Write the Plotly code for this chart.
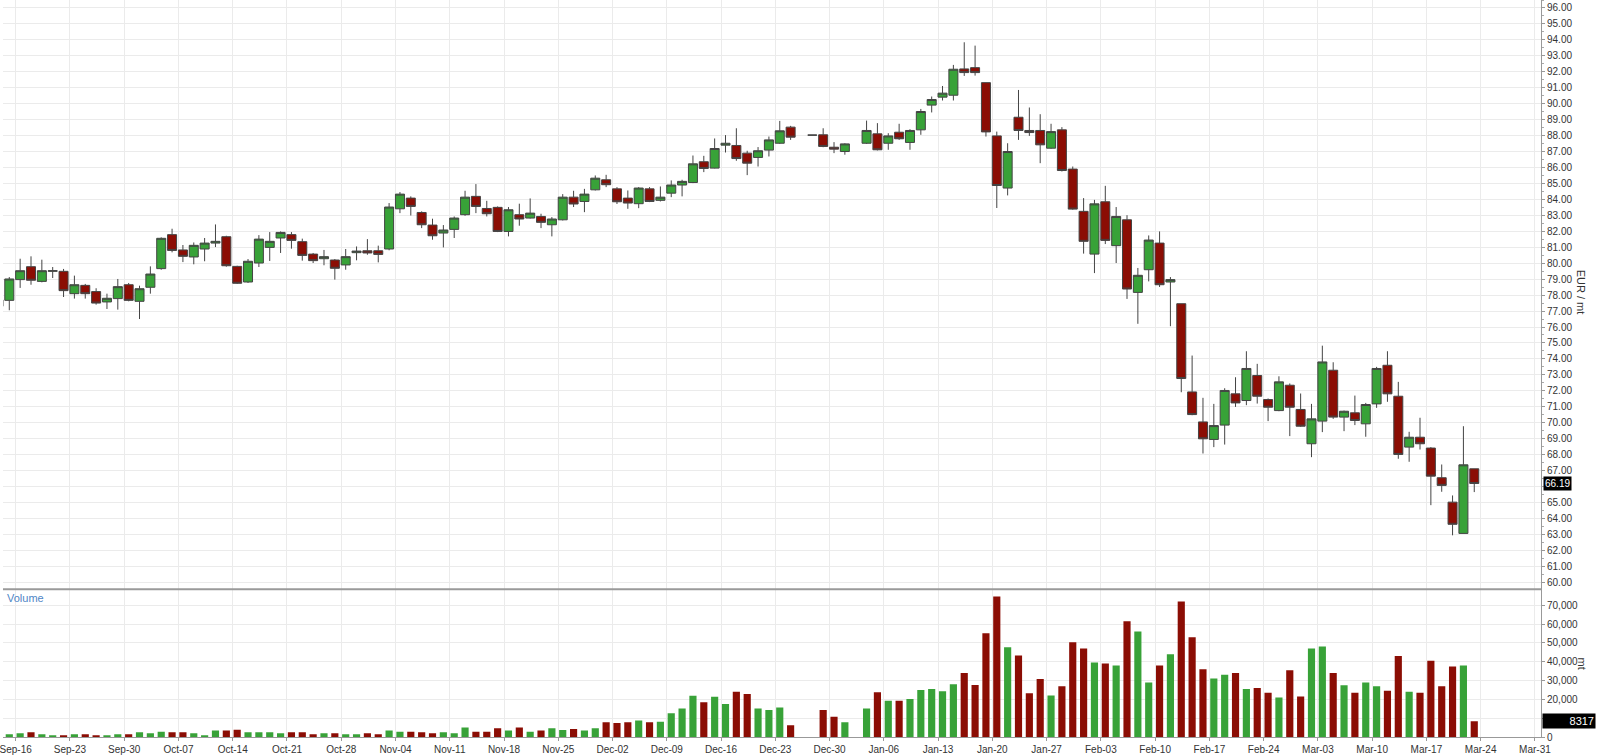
import numpy as np
import pandas as pd
import plotly.graph_objects as go

# ---------------- data ----------------
HOLIDAYS = ["2024-12-25", "2025-01-01"]
dates = [d.strftime("%Y-%m-%d") for d in pd.bdate_range("2024-09-12", "2025-03-21")
         if d.strftime("%Y-%m-%d") not in HOLIDAYS]

open_ = [77.30, 77.67, 78.97, 79.78, 78.86, 79.49, 79.49, 78.09, 78.61, 78.22,
         77.57, 77.78, 78.65, 77.61, 78.49, 79.66, 81.79, 80.83, 80.39, 80.89,
         81.26, 81.66, 79.80, 78.82, 80.01, 80.99, 81.58, 81.79, 81.35, 80.57,
         80.28, 80.20, 79.89, 80.66, 80.78, 80.78, 80.89, 83.41, 84.08, 83.18,
         82.39, 81.89, 82.12, 83.04, 84.19, 83.43, 83.50, 81.99, 83.04, 82.83,
         82.93, 82.41, 82.72, 84.14, 83.87, 84.60, 85.23, 84.66, 84.08, 83.73,
         84.66, 83.94, 84.39, 84.90, 85.06, 86.36, 85.96, 87.40, 87.38, 86.90,
         86.63, 87.09, 87.52, 88.53, 88.03, 88.05, 87.27, 87.00, 87.52, 88.11,
         87.52, 88.21, 87.57, 88.36, 89.91, 90.41, 90.53, 92.18, 92.26, 91.32,
         87.98, 84.71, 89.15, 88.32, 88.32, 87.21, 88.36, 85.90, 83.25, 80.57,
         83.85, 81.10, 82.72, 78.17, 79.59, 81.26, 78.82, 77.46, 71.93, 70.05,
         68.95, 69.85, 71.81, 71.39, 72.96, 71.45, 70.76, 72.35, 70.83, 68.68,
         70.10, 73.29, 70.35, 70.62, 69.93, 71.18, 73.60, 71.66, 68.47, 69.09,
         68.41, 66.55, 65.02, 63.06, 67.11]
high = [77.90, 79.13, 80.28, 80.43, 80.22, 79.76, 79.64, 79.22, 78.70, 78.43,
        78.09, 79.01, 78.76, 78.59, 79.80, 81.62, 82.16, 81.14, 81.30, 81.58,
        82.43, 81.72, 79.84, 80.26, 81.76, 81.95, 81.99, 81.95, 81.54, 80.64,
        80.83, 80.26, 80.89, 81.05, 81.51, 81.10, 83.77, 84.46, 84.19, 83.25,
        82.79, 82.39, 82.93, 84.54, 84.96, 83.91, 83.56, 83.52, 83.73, 84.06,
        83.10, 82.89, 84.33, 84.54, 84.66, 85.50, 85.54, 84.77, 84.56, 84.77,
        84.77, 84.81, 85.19, 85.23, 86.75, 86.73, 87.82, 88.03, 88.46, 87.05,
        87.28, 87.94, 88.92, 88.61, 88.03, 88.46, 87.59, 87.52, 88.94, 88.78,
        88.15, 88.74, 88.40, 89.67, 90.45, 91.11, 92.43, 93.85, 93.64, 91.32,
        88.25, 87.52, 90.86, 89.76, 89.34, 88.74, 88.53, 86.06, 84.08, 83.97,
        84.85, 83.52, 83.01, 79.70, 81.74, 81.99, 79.13, 77.46, 74.21, 71.56,
        71.18, 72.16, 72.85, 74.48, 73.69, 71.52, 72.91, 72.46, 71.83, 71.18,
        74.83, 73.79, 70.76, 71.70, 71.24, 73.50, 74.48, 72.56, 69.43, 70.31,
        68.47, 67.38, 65.44, 69.78, 67.11]
low = [77.00, 77.05, 78.45, 78.65, 78.80, 79.07, 77.88, 77.78, 77.78, 77.40,
       77.13, 77.09, 77.61, 76.50, 78.09, 79.59, 80.68, 80.07, 79.93, 80.12,
       81.01, 79.78, 78.70, 78.76, 79.76, 80.14, 80.64, 80.91, 80.16, 80.01,
       79.87, 78.97, 79.59, 80.18, 80.53, 80.05, 80.81, 83.14, 82.99, 82.20,
       81.47, 80.99, 81.58, 82.97, 83.14, 82.93, 81.95, 81.68, 82.35, 82.80,
       82.20, 81.68, 82.68, 83.52, 83.20, 84.56, 84.77, 83.71, 83.41, 83.45,
       83.83, 83.87, 84.14, 84.19, 85.02, 85.71, 85.94, 86.94, 86.42, 85.52,
       86.06, 86.69, 87.48, 87.73, 88.03, 87.27, 86.90, 86.80, 87.48, 87.07,
       87.11, 87.73, 87.11, 88.05, 89.45, 90.20, 90.20, 91.74, 91.76, 87.94,
       83.46, 84.25, 87.73, 87.98, 86.27, 87.17, 85.75, 83.35, 80.60, 79.38,
       81.20, 80.01, 77.76, 76.20, 78.86, 78.51, 76.05, 71.91, 70.47, 68.07,
       68.47, 68.63, 70.99, 71.10, 71.20, 70.10, 70.72, 69.16, 69.74, 67.84,
       69.41, 70.24, 69.47, 69.85, 69.12, 70.93, 71.31, 67.74, 67.55, 68.32,
       64.83, 65.67, 62.94, 63.06, 65.65]
close = [77.70, 79.01, 79.53, 78.93, 79.53, 79.53, 78.28, 78.65, 78.09, 77.50,
         77.80, 78.53, 77.67, 78.40, 79.32, 81.56, 80.80, 80.43, 81.12, 81.26,
         81.37, 79.84, 78.74, 80.12, 81.51, 81.37, 81.93, 81.43, 80.49, 80.16,
         80.41, 79.68, 80.41, 80.76, 80.64, 80.55, 83.52, 84.33, 83.56, 82.41,
         81.72, 82.08, 82.83, 84.14, 83.56, 83.10, 81.99, 83.35, 82.77, 83.14,
         82.56, 82.77, 84.14, 83.71, 84.33, 85.33, 84.92, 83.85, 83.77, 84.71,
         83.87, 84.14, 84.90, 85.13, 86.23, 85.94, 87.19, 87.52, 86.56, 86.27,
         87.05, 87.73, 88.30, 87.90, 88.03, 87.32, 87.15, 87.48, 88.32, 87.11,
         87.98, 87.80, 88.32, 89.51, 90.26, 90.66, 92.16, 91.95, 91.95, 88.23,
         84.87, 87.00, 88.32, 88.19, 87.42, 88.25, 85.81, 83.39, 81.37, 83.72,
         81.43, 82.93, 78.38, 79.24, 81.45, 78.65, 78.97, 72.77, 70.51, 68.99,
         69.82, 72.02, 71.24, 73.40, 71.66, 70.97, 72.56, 70.97, 69.78, 70.24,
         73.81, 70.35, 70.72, 70.14, 71.14, 73.40, 71.81, 68.01, 69.09, 68.68,
         66.65, 66.07, 63.63, 67.36, 66.19]
volume = [1500, 1500, 2000, 2500, 1400, 900, 900, 1400, 1400, 900,
          500, 1400, 1400, 2500, 2000, 2800, 2500, 2500, 2000, 900,
          3400, 3400, 3900, 2500, 2500, 2500, 2000, 2500, 2500, 1400,
          2000, 2000, 1400, 1400, 2000, 1400, 3400, 2800, 2800, 2500,
          2000, 2500, 2000, 5100, 2800, 2800, 4600, 3400, 5100, 2800,
          3400, 4600, 3700, 4300, 3400, 4600, 7800, 7400, 7800, 8700,
          7800, 8100, 12600, 15200, 21900, 18400, 21400, 17500, 24000, 22800,
          15200, 14300, 15700, 6200, None, 14300, 10800, 7800, 15200, 23700,
          19300, 19300, 20200, 25000, 25500, 24300, 28000, 34000, 27600, 55100,
          74600, 47600, 43300, 23200, 30800, 22100, 27000, 50300, 47000, 39500,
          39000, 38000, 61500, 56000, 29000, 38000, 44000, 72000, 53000, 36000,
          31000, 33000, 34000, 25500, 26000, 23500, 21000, 35500, 21500, 47000,
          48000, 34000, 27500, 23500, 29000, 27000, 24500, 43000, 24000, 23500,
          40500, 27000, 37500, 38000, 8317]

week_starts = pd.date_range("2024-09-16", "2025-03-31", freq="7D")
week_labels = [d.strftime("%b-%d") for d in week_starts]

price_ticks = [v for v in range(60, 97) if v != 66]          # 66.00 sits under the last-price box
volume_ticks = [v for v in range(0, 70001, 10000) if v != 10000]  # 10,000 sits under the volume box

# ---------------- positions via trading-day axis ----------------
ORIGIN = "2024-09-16"
xi = np.busday_count(ORIGIN, np.array(dates, dtype="datetime64[D]"))
tick_pos = np.busday_count(ORIGIN, week_starts.values.astype("datetime64[D]")) - 0.41

GREEN = "#38a238"
RED = "#8b0d04"
bar_colors = [GREEN if c >= o else RED for o, c in zip(open_, close)]

FONT = "Liberation Sans, Arial, sans-serif"
TICKC = "#333333"

fig = go.Figure()
fig.add_trace(go.Candlestick(
    x=xi, open=open_, high=high, low=low, close=close,
    xaxis="x2", yaxis="y",
    increasing=dict(fillcolor=GREEN, line=dict(color="#444444", width=1)),
    decreasing=dict(fillcolor=RED, line=dict(color="#444444", width=1)),
    whiskerwidth=0, showlegend=False, hoverinfo="skip",
))
fig.add_trace(go.Bar(
    x=xi, y=volume, xaxis="x", yaxis="y2",
    marker=dict(color=bar_colors, line=dict(width=0)),
    showlegend=False, hoverinfo="skip",
))

XR = [-1.58, 140.15]
SPLIT = 0.2005
grid = "#ebebeb"

fig.update_layout(
    width=1600, height=755,
    margin=dict(l=0, r=59, t=0, b=17),
    paper_bgcolor="white", plot_bgcolor="white",
    font=dict(family=FONT, size=10, color=TICKC),
    boxgap=0.17, boxgroupgap=0, bargap=0.34,
    xaxis=dict(domain=[0, 1], anchor="y2", range=XR,
               tickmode="array", tickvals=tick_pos, ticktext=week_labels,
               ticklabeloverflow="allow",
               showgrid=True, gridcolor=grid, gridwidth=1,
               showline=True, linecolor="#999999", linewidth=1,
               ticks="outside", ticklen=3, tickcolor="#999999",
               tickfont=dict(family=FONT, size=10, color=TICKC),
               zeroline=False, fixedrange=True),
    xaxis2=dict(domain=[0, 1], anchor="y", matches="x", range=XR,
                tickmode="array", tickvals=tick_pos, showticklabels=False,
                showgrid=True, gridcolor=grid, gridwidth=1,
                rangeslider=dict(visible=False), zeroline=False, ticks=""),
    yaxis=dict(domain=[SPLIT, 1], range=[59.56, 96.5], side="right", anchor="x2",
               tickmode="array", tickvals=price_ticks, tickformat=".2f",
               showgrid=True, gridcolor=grid, gridwidth=1,
               showline=True, linecolor="#999999", linewidth=1,
               ticks="outside", ticklen=3, tickcolor="#999999",
               minor=dict(tick0=60, dtick=0.5, ticks="outside", ticklen=2, tickcolor="#aaaaaa",
                          showgrid=False),
               ticklabeloverflow="allow",
               tickfont=dict(family=FONT, size=10, color=TICKC), zeroline=False),
    yaxis2=dict(domain=[0, SPLIT], range=[0, 78470], side="right", anchor="x",
                tickmode="array", tickvals=volume_ticks, tickformat=",",
                showgrid=True, gridcolor=grid, gridwidth=1,
                showline=True, linecolor="#999999", linewidth=1,
                ticks="outside", ticklen=3, tickcolor="#999999",
                minor=dict(tick0=0, dtick=10000, ticks="outside", ticklen=3, tickcolor="#999999",
                           showgrid=True, gridcolor=grid, gridwidth=1),
                tickfont=dict(family=FONT, size=10, color=TICKC), zeroline=False),
)

# horizontal grid at 66 (label hidden under the price box)
fig.add_shape(type="line", xref="paper", yref="y", x0=0, x1=1, y0=66, y1=66,
              line=dict(color=grid, width=1), layer="below")
# pane separator
fig.add_shape(type="line", xref="paper", yref="paper", x0=0, x1=1, y0=SPLIT, y1=SPLIT,
              line=dict(color="#9a9a9a", width=2))

ann = [
    dict(text="Volume", xref="paper", yref="paper", x=0.0, y=0.189, xanchor="left",
         yanchor="middle", xshift=2, showarrow=False, font=dict(family=FONT, size=11, color="#4f86c6")),
    dict(text="EUR / mt", xref="paper", yref="paper", x=1.0266, y=0.603, xanchor="center",
         yanchor="middle", textangle=90, showarrow=False, font=dict(family=FONT, size=11, color=TICKC)),
    dict(text="mt", xref="paper", yref="paper", x=1.0266, y=0.0999, xanchor="center",
         yanchor="middle", textangle=90, showarrow=False, font=dict(family=FONT, size=11, color=TICKC)),
    dict(text=f"{close[-1]:.2f}", xref="paper", yref="y", x=1.0, y=close[-1], xanchor="left",
         yanchor="middle", xshift=2, showarrow=False, bgcolor="black", borderpad=1,
         font=dict(family=FONT, size=10, color="white")),
    dict(text=f"{volume[-1]}", xref="paper", yref="y2", x=1.0, y=volume[-1], xanchor="left",
         yanchor="middle", xshift=1, showarrow=False, bgcolor="black", borderpad=1,
         width=50, align="right", font=dict(family=FONT, size=11, color="white")),
]
fig.update_layout(annotations=ann)

fig.write_html("out.html", config={"displayModeBar": False},
               post_script="document.body.style.margin='0';document.body.style.overflow='hidden';")
